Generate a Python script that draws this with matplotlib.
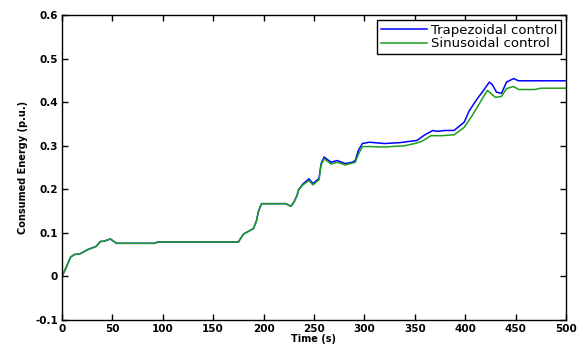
import matplotlib
matplotlib.use("Agg")
import matplotlib.pyplot as plt

plt.rcParams['font.family'] = ['DejaVu Sans']

trap_t = [0, 5, 8.5, 12, 18, 26, 34, 38, 42, 48, 54, 92, 95, 175, 178, 180, 190, 193, 195, 198,
          222, 227, 230, 233, 235, 239, 245, 249, 255, 257, 260, 267, 273, 281, 288, 291, 294, 298,
          305, 320, 335, 345, 352, 360, 368, 372, 380, 389, 399, 404, 412, 417, 424, 427, 431, 436,
          441, 448, 453, 500]
trap_v = [0, 0.025, 0.044, 0.05, 0.052, 0.062, 0.069, 0.08, 0.081, 0.086, 0.076, 0.076, 0.079, 0.079,
          0.09, 0.097, 0.11, 0.128, 0.15, 0.167, 0.167, 0.161, 0.17, 0.185, 0.2, 0.212, 0.224, 0.213,
          0.225, 0.258, 0.274, 0.262, 0.266, 0.259, 0.262, 0.266, 0.289, 0.305, 0.308, 0.305, 0.307,
          0.31, 0.312, 0.325, 0.335, 0.333, 0.335, 0.335, 0.354, 0.38, 0.408, 0.423, 0.446, 0.44,
          0.423, 0.42, 0.446, 0.454, 0.449, 0.449]

sin_t = [0, 5, 8.5, 12, 18, 26, 34, 38, 42, 48, 54, 92, 95, 175, 178, 180, 190, 193, 195, 198,
         222, 227, 230, 233, 235, 239, 245, 249, 255, 257, 260, 267, 273, 281, 288, 291, 294, 298,
         305, 320, 340, 350, 357, 366, 377, 389, 399, 408, 417, 422, 430, 436, 441, 448, 453, 469,
         475, 500]
sin_v = [0, 0.025, 0.044, 0.05, 0.052, 0.062, 0.069, 0.08, 0.081, 0.086, 0.076, 0.076, 0.079, 0.079,
         0.09, 0.097, 0.11, 0.128, 0.15, 0.167, 0.167, 0.161, 0.17, 0.185, 0.2, 0.21, 0.22, 0.21,
         0.222, 0.255, 0.27, 0.258, 0.262, 0.256, 0.26, 0.262, 0.28, 0.298, 0.298, 0.297, 0.3, 0.305,
         0.31, 0.323, 0.323, 0.325, 0.342, 0.373, 0.408, 0.427, 0.411, 0.413, 0.431, 0.436, 0.429,
         0.429, 0.432, 0.432]

series_labels = ['Trapezoidal control', 'Sinusoidal control']
x_ticks = [0, 50, 100, 150, 200, 250, 300, 350, 400, 450, 500]
y_ticks = [-0.1, 0, 0.1, 0.2, 0.3, 0.4, 0.5, 0.6]
y_tick_labels = ['-0.1', '0', '0.1', '0.2', '0.3', '0.4', '0.5', '0.6']

fig = plt.figure(figsize=(5.83, 3.53), dpi=100)
ax = fig.add_axes([0.1063, 0.0935, 0.8645, 0.864])
ax.plot(trap_t, trap_v, color='#0000ff', lw=1.1, label=series_labels[0])
ax.plot(sin_t, sin_v, color='#1e9e1e', lw=1.1, label=series_labels[1])
ax.set_xlim(0, 500)
ax.set_ylim(-0.1, 0.6)
ax.set_xticks(x_ticks)
ax.set_yticks(y_ticks)
ax.set_yticklabels(y_tick_labels)
ax.tick_params(direction='in', top=True, right=True, length=4, width=1, labelsize=7.5, pad=3)
for lab in ax.get_xticklabels() + ax.get_yticklabels():
    lab.set_fontweight('bold')
for s in ax.spines.values():
    s.set_linewidth(1)
ax.set_xlabel('Time (s)', fontsize=7, fontweight='bold', labelpad=0)
ax.set_ylabel('Consumed Energy (p.u.)', fontsize=7, fontweight='bold', labelpad=5)
leg = ax.legend(loc='upper right', fontsize=9.5, handlelength=3.5, fancybox=False, framealpha=1,
                edgecolor='black', borderaxespad=0.35, borderpad=0.3, labelspacing=0.05,
                handletextpad=0.3)
leg.get_frame().set_linewidth(1)
fig.savefig('out.png', dpi=100)
